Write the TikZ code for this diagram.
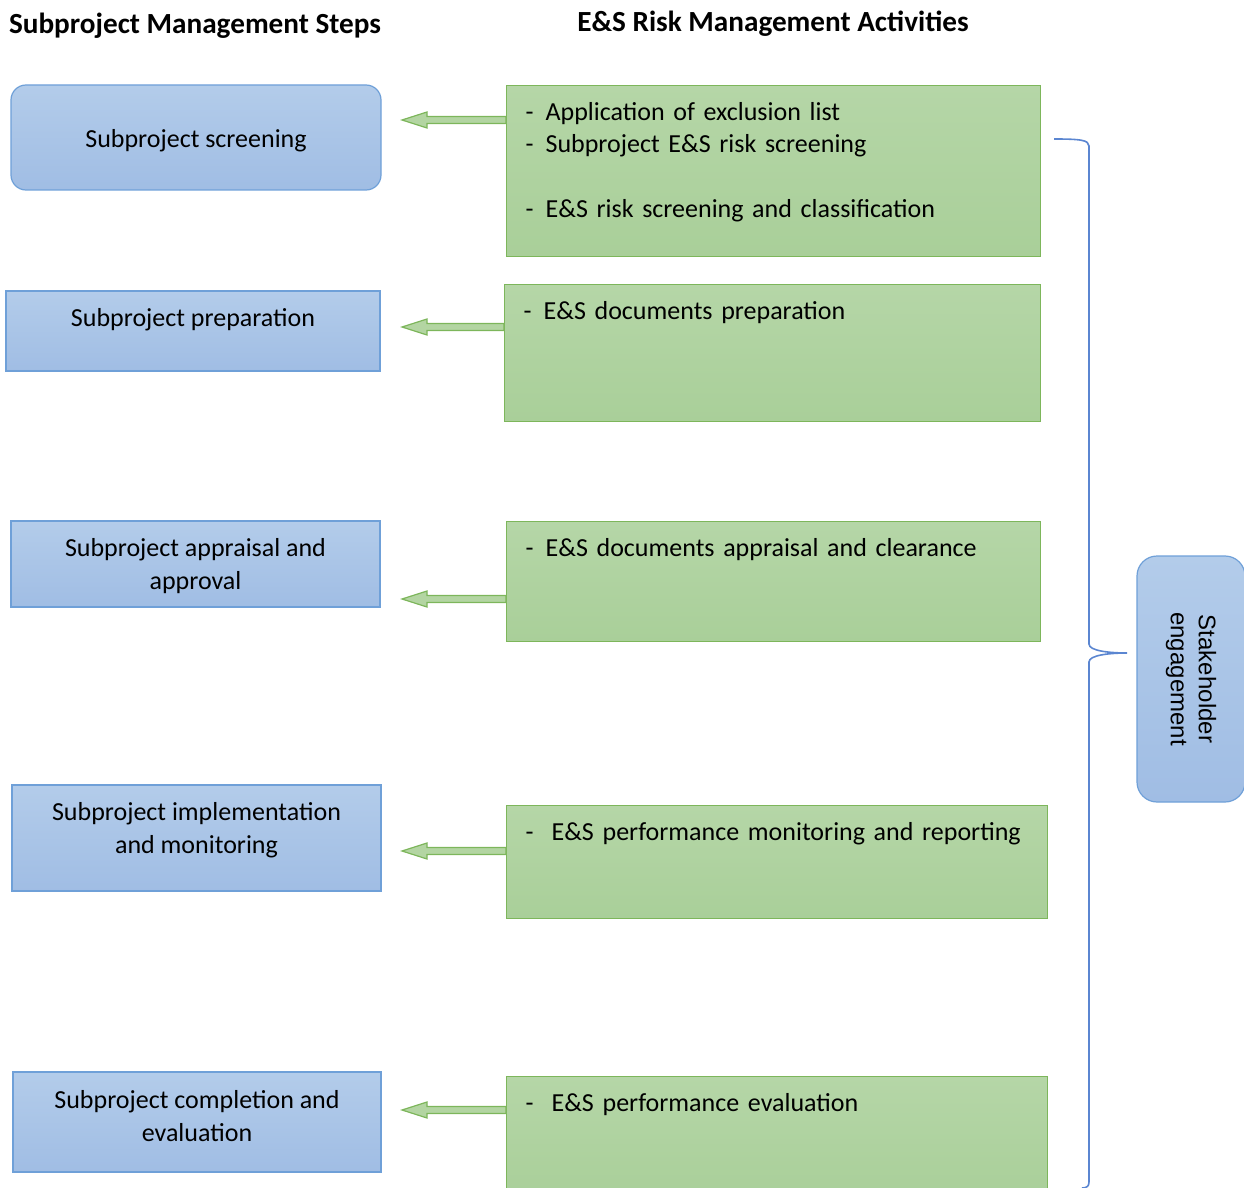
\documentclass[tikz,border=0pt]{standalone}
\usepackage{fontspec}
\setmainfont{Carlito}
\newfontfamily\arialfont{Liberation Sans}
\usetikzlibrary{calc}

\definecolor{steptop}{HTML}{B3CCEA}
\definecolor{stepbottom}{HTML}{A0BDE4}
\definecolor{stepborder}{HTML}{6FA0D8}
\definecolor{acttop}{HTML}{B5D6A7}
\definecolor{actbottom}{HTML}{A9CF99}
\definecolor{actborder}{HTML}{7DB65B}
\definecolor{arrowfill}{HTML}{B3D5A2}
\definecolor{braceblue}{HTML}{5B86D1}

\tikzset{
  stepbox/.style={draw=stepborder, top color=steptop, bottom color=stepbottom, line width=0.6pt, align=center, font=\fontsize{13}{16.5}\selectfont},
  actbox/.style={draw=actborder, top color=acttop, bottom color=actbottom, line width=0.6pt, anchor=north west, align=left, inner xsep=9.5pt, inner ysep=5pt, text height=12.5pt, font=\fontsize{13}{16}\selectfont},
  fatarrow/.style={draw=actborder, fill=arrowfill, line width=0.6pt},
  bracket/.style={draw=braceblue, line width=0.8pt},
  heading/.style={font=\bfseries\fontsize{14.6}{16}\selectfont}
}

\begin{document}
\begin{tikzpicture}[x=0.5pt,y=-0.5pt]
\useasboundingbox (0,0) rectangle (1244,1188);
\clip (0,0) rectangle (1244,1188);

% Headings
\node[heading, anchor=west] (h1) at (2,26) {Subproject Management Steps};
\node[heading] (h2) at (773,24) {E\&S Risk Management Activities};

% Subproject steps
\node[stepbox, rounded corners=7.5pt, minimum width=185pt, minimum height=52.5pt, text height=12.1pt, text depth=2.5pt] (b1) at (196,137.5) {Subproject screening};
\node[stepbox, minimum width=187pt, minimum height=40pt, text height=10pt, text depth=14pt] (b2) at (193,331) {Subproject preparation};
\node[stepbox, minimum width=184.5pt, minimum height=43pt, text height=27.6pt, text depth=2.5pt] (b3) at (195.5,564) {Subproject appraisal and\\approval};
\node[stepbox, minimum width=184.5pt, minimum height=53pt, text height=27.6pt, text depth=12.1pt] (b4) at (196.5,838) {Subproject implementation\\and monitoring};
\node[stepbox, minimum width=184pt, minimum height=50pt, text height=27.6pt, text depth=8.6pt] (b5) at (197,1122) {Subproject completion and\\evaluation};

% E&S activities
\node[actbox, text width=248pt, text depth=63pt] (g1) at (506,85)
  {\makebox[10pt][l]{-}Application of exclusion list\\
   \makebox[10pt][l]{-}Subproject E\&S risk screening\\[16.5pt]
   \makebox[10pt][l]{-}E\&S risk screening and classification};
\node[actbox, text width=249pt, text depth=46pt] (g2) at (504,284)
  {\makebox[10pt][l]{-}E\&S documents preparation};
\node[actbox, text width=248pt, text depth=37.5pt] (g3) at (506,521)
  {\makebox[10pt][l]{-}E\&S documents appraisal and clearance};
\node[actbox, text width=251.5pt, text depth=34pt] (g4) at (506,805)
  {\makebox[13pt][l]{-}E\&S performance monitoring and reporting};
\node[actbox, text width=251.5pt, text depth=39.5pt] (g5) at (506,1076)
  {\makebox[13pt][l]{-}E\&S performance evaluation};

% Block arrows
\foreach \n/\y in {1/120, 2/327, 3/599, 4/851, 5/1110} {
  \coordinate (tip\n) at (402,\y);
  \filldraw[fatarrow] (tip\n) -- ++(25,-8) -- ++(0,4.5) -- ($(g\n.west |- tip\n)+(0,-3.5)$) -- ++(0,7) -- ($(tip\n)+(25,3.5)$) -- ++(0,4.5) -- cycle;
}

% Stakeholder engagement
\node[stepbox, rounded corners=10pt, minimum width=123pt, minimum height=54pt, rotate=-90, font=\arialfont\fontsize{12}{14}\selectfont] (s) at (1191,679) {Stakeholder\\engagement};

% Bracket
\coordinate (bs) at (1054,139);
\coordinate (bt) at (1127,653);
\coordinate (be) at (1082,1188);
\draw[bracket] (bs) .. controls (1080,139) and (1089,140) .. (1089,146) -- (1089,644)
  .. controls (1089,651) and (1110,653) .. (bt)
  .. controls (1110,653) and (1089,655) .. (1089,662) -- (1089,1182)
  .. controls (1089,1186) and (1087,1188) .. (be);
\end{tikzpicture}
\end{document}
